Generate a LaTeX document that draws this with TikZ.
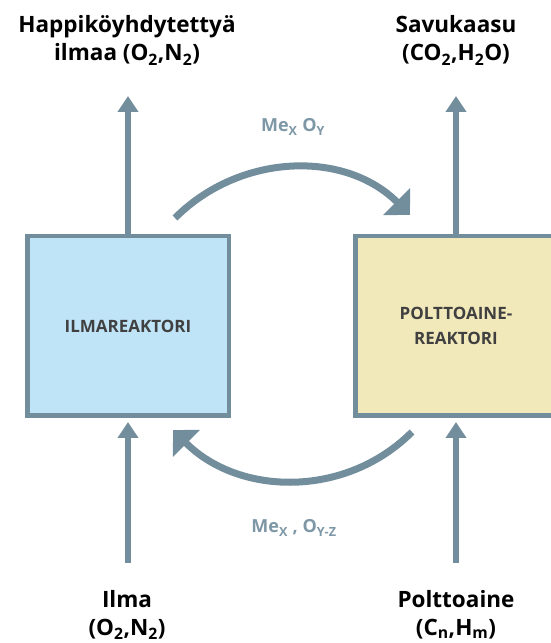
\documentclass[tikz,border=0pt]{standalone}
\usepackage{fontspec}
\setmainfont{Open Sans}
\usetikzlibrary{arrows.meta}
\definecolor{flow}{RGB}{114,141,156}
\definecolor{lbl}{RGB}{125,151,166}
\definecolor{airfill}{RGB}{191,228,248}
\definecolor{fuelfill}{RGB}{242,233,187}
\definecolor{boxtext}{RGB}{64,64,64}
\begin{document}
\begin{tikzpicture}[x=1pt,y=1pt,
  reactor/.style={draw=flow, line width=4.5pt, minimum width=201.5pt, minimum height=179.5pt,
    inner sep=0pt, font=\bfseries\fontsize{17}{25}\selectfont, text=boxtext, align=center},
  flowarrow/.style={draw=flow, line width=6.5pt, -{Triangle[width=20pt,length=16pt]}},
  looparrow/.style={draw=flow, line width=7pt, -{Triangle[width=37pt,length=19pt]}},
  titletext/.style={font=\bfseries\fontsize{22.5}{26}\selectfont, anchor=base, inner sep=0pt, text=black},
  looplabel/.style={font=\bfseries\fontsize{18}{22}\selectfont, text=lbl, anchor=base, inner sep=0pt}]
\useasboundingbox (0,0) rectangle (550,643);
% reactors
\node[reactor, fill=airfill] (ir) at (128,317) {ILMAREAKTORI};
\node[reactor, fill=fuelfill] (fr) at (456,317) {POLTTOAINE-\\REAKTORI};
% labels
\node[titletext] (t1a) at (127,610) {Happiköyhdytettyä};
\node[titletext] (t1b) at (127,582) {ilmaa (O\textsubscript{2},N\textsubscript{2})};
\node[titletext] (t2a) at (456,610) {Savukaasu};
\node[titletext] (t2b) at (456,582) {(CO\textsubscript{2},H\textsubscript{2}O)};
\node[titletext] (b1a) at (127,35) {Ilma};
\node[titletext] (b1b) at (127,8) {(O\textsubscript{2},N\textsubscript{2})};
\node[titletext] (b2a) at (456,35) {Polttoaine};
\node[titletext] (b2b) at (456,8) {(C\textsubscript{n},H\textsubscript{m})};
\node[looplabel] (l1) at (293,511) {Me\textsubscript{X} O\textsubscript{Y}};
\node[looplabel] (l2) at (294,110) {Me\textsubscript{X} , O\textsubscript{Y-Z}};
% free ends
\coordinate (upL) at (128,547);
\coordinate (upR) at (456,547);
\coordinate (inL) at (128,80);
\coordinate (inR) at (456,80);
\coordinate (a1s) at (175,425);
\coordinate (a1e) at (410,428);
\coordinate (a2s) at (412,211);
\coordinate (a2e) at (173,213);
% straight arrows
\draw[flowarrow] (ir.north) -- (upL);
\draw[flowarrow] (fr.north) -- (upR);
\draw[flowarrow] (inL) -- ([yshift=-4pt]ir.south);
\draw[flowarrow] (inR) -- ([yshift=-4pt]fr.south);
% loop arrows
\draw[looparrow] (a1s) to[out=45,in=135] (a1e);
\draw[looparrow] (a2s) to[out=-135,in=-45] (a2e);
\end{tikzpicture}
\end{document}
